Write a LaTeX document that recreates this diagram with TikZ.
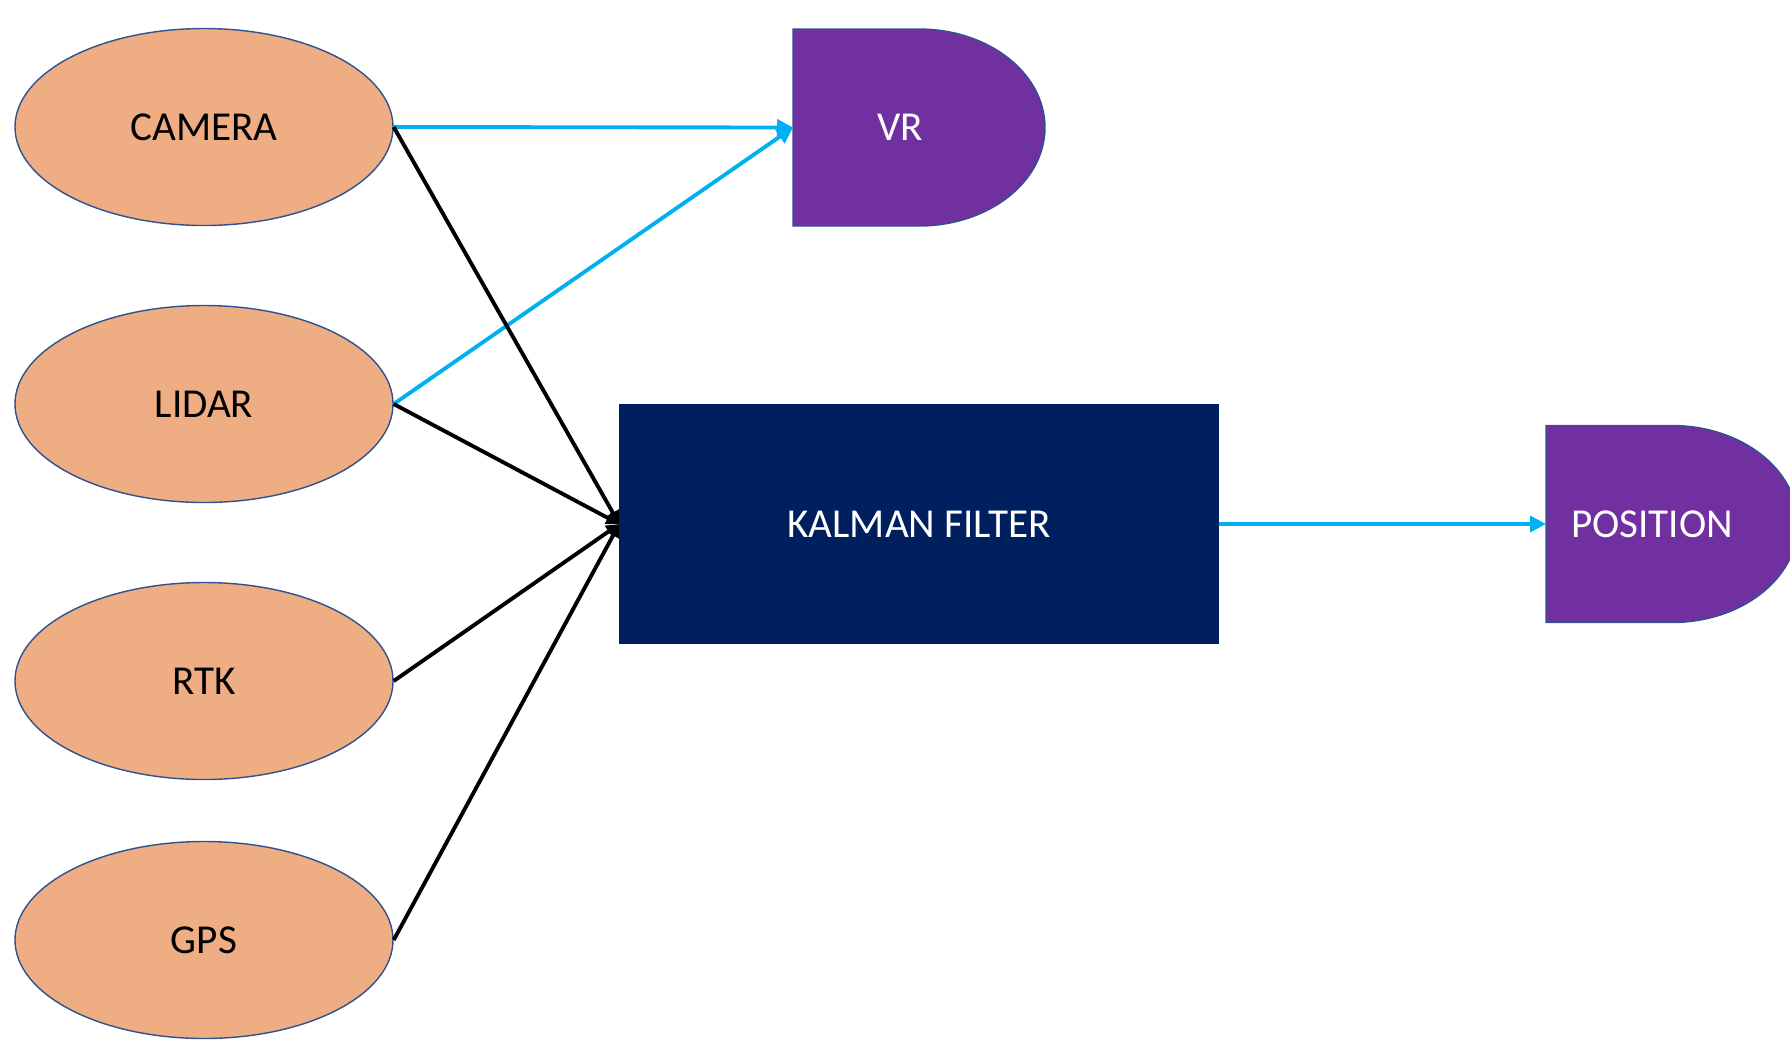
\documentclass[tikz,border=0pt]{standalone}
\usepackage{fontspec}
\setmainfont{Carlito}
\usetikzlibrary{shapes.geometric,arrows.meta,calc}

\definecolor{sensorfill}{HTML}{EFAD84}
\definecolor{outline}{HTML}{2F528F}
\definecolor{navy}{HTML}{001F5F}
\definecolor{violet}{HTML}{7030A0}
\definecolor{skyline}{HTML}{00B0F0}

\tikzset{
  sensor/.style={ellipse, draw=outline, line width=0.4pt, fill=sensorfill,
    minimum width=37.8mm, minimum height=19.7mm, inner sep=0pt,
    font=\fontsize{11.7}{14}\selectfont, text=black},
  filterbox/.style={rectangle, fill=navy, draw=navy, line width=0.4pt,
    minimum width=59.8mm, minimum height=23.8mm, inner sep=0pt,
    font=\fontsize{11.7}{14}\selectfont, text=white},
  delayarea/.style={rectangle, draw=none, minimum width=25.2mm,
    minimum height=19.7mm, inner sep=0pt, outer sep=0pt},
  delayshape/.style={fill=violet, draw=outline, line width=0.4pt},
  lighttext/.style={font=\fontsize{11.7}{14}\selectfont, text=white, inner sep=0pt},
  feed/.style={draw=skyline, line width=1.1pt,
    -{Triangle[length=1.6mm,width=1.6mm]}},
  merge/.style={draw=black, line width=1.1pt,
    -{Triangle[length=1.3mm,width=1.3mm]}}
}

\begin{document}
\begin{tikzpicture}[x=0.1mm,y=-0.1mm]
  \useasboundingbox (0,0) rectangle (1790,1043);
  \clip (0,0) rectangle (1790,1043);

  % sensor inputs
  \node[sensor] (camera) at (204,127) {CAMERA};
  \node[sensor] (lidar)  at (204,404) {LIDAR};
  \node[sensor] (rtk)    at (204,681) {RTK};
  \node[sensor] (gps)    at (204,940) {GPS};

  % fusion block
  \node[filterbox] (kalman) at (919,524) {KALMAN FILTER};

  % delay-shaped outputs: flat left half, elliptic right half
  \node[delayarea, anchor=west] (vr)  at (793,127.5) {};
  \node[delayarea, anchor=west] (pos) at (1546,524) {};
  \foreach \d in {vr,pos}{
    \path[delayshape] (\d.north west) -- (\d.north)
      arc[start angle=-90, end angle=90, x radius=126, y radius=98.5]
      -- (\d.south west) -- cycle;
  }
  \node[lighttext] (vrtext)  at ($(vr.west)+(107,0)$)  {VR};
  \node[lighttext] (postext) at ($(pos.west)+(106,0)$) {POSITION};

  % connectors
  \draw[feed] (camera.east) -- (vr.west);
  \draw[feed] (lidar.east) -- (vr.west);
  \draw[merge] (camera.east) -- (kalman.west);
  \draw[merge] (lidar.east) -- (kalman.west);
  \draw[merge] (rtk.east) -- (kalman.west);
  \draw[merge] (gps.east) -- (kalman.west);
  \draw[feed] (kalman.east) -- (pos.west);
\end{tikzpicture}
\end{document}
